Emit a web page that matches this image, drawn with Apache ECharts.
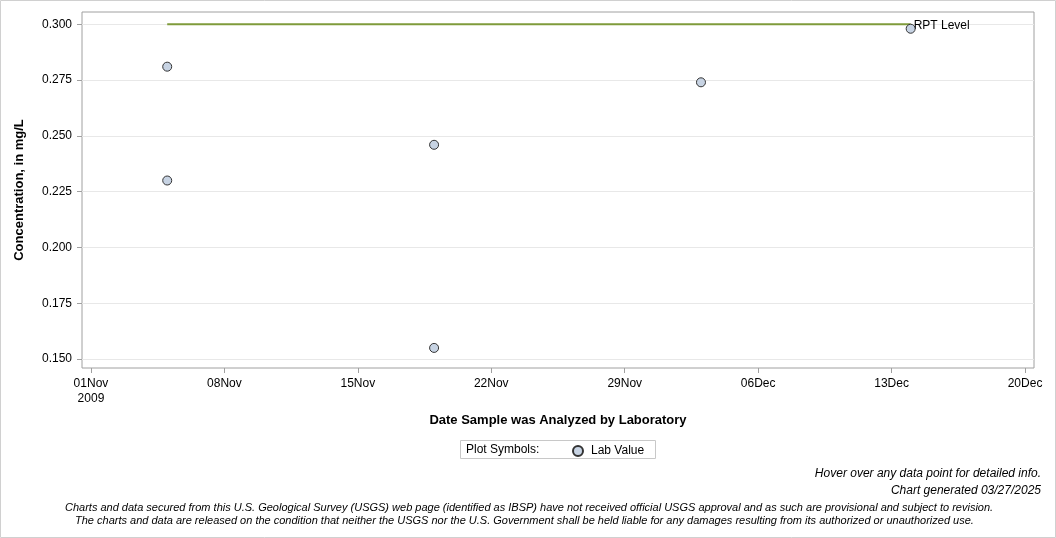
<!DOCTYPE html>
<html>
<head>
<meta charset="utf-8">
<script src="https://cdn.jsdelivr.net/npm/echarts@6/dist/echarts.min.js"></script>
<style>
	html, body { margin: 0; padding: 0; background: #fff; }
	#chart { width: 1056px; height: 538px; }
</style>
</head>
<body>
<div id="chart"></div>
<script>
	// sample dates and lab values
	var sampleDates = ['2009-11-05', '2009-11-05', '2009-11-19', '2009-11-19', '2009-12-03', '2009-12-14'];
	var labValues = [0.281, 0.230, 0.246, 0.155, 0.274, 0.298];
	// reporting level line
	var rptDates = ['2009-11-05', '2009-12-14'];
	var rptValue = 0.300;
	// axis ticks
	var xTickDates = ['2009-11-01', '2009-11-08', '2009-11-15', '2009-11-22', '2009-11-29', '2009-12-06', '2009-12-13', '2009-12-20'];
	var xTickLabels = ['01Nov\n2009', '08Nov', '15Nov', '22Nov', '29Nov', '06Dec', '13Dec', '20Dec'];
	var yTicks = [0.150, 0.175, 0.200, 0.225, 0.250, 0.275, 0.300];

	var FONT = 'Liberation Sans, Arial, sans-serif';
	var DAY = 86400000;
	var origin = Date.UTC(2009, 10, 1);
	// days since 01Nov2009
	function dayOf(s) {
		var p = s.split('-');
		return (Date.UTC(+p[0], +p[1] - 1, +p[2]) - origin) / DAY;
	}
	var xTicks = xTickDates.map(dayOf);
	var labelByDay = {};
	xTicks.forEach(function(d, i) { labelByDay[d] = xTickLabels[i]; });

	var scatterData = sampleDates.map(function(d, i) { return [dayOf(d), labValues[i]]; });
	var rptData = rptDates.map(function(d) { return [dayOf(d), rptValue]; });

	var chart = echarts.init(document.getElementById('chart'));
	chart.setOption({
		animation: false,
		textStyle: { fontFamily: FONT },
		grid: { left: 82, top: 12, right: 22, bottom: 170, show: true, borderColor: '#a0a0a0', borderWidth: 1 },
		xAxis: {
			type: 'value',
			min: -0.47,
			max: 49.47,
			name: 'Date Sample was Analyzed by Laboratory',
			nameLocation: 'middle',
			nameGap: 46,
			nameMoveOverlap: false,
			nameTextStyle: { fontWeight: 'bold', fontSize: 13, color: '#000', fontFamily: FONT },
			axisLine: { show: false, onZero: false },
			axisTick: { show: true, customValues: xTicks, length: 5, lineStyle: { color: '#a0a0a0' } },
			axisLabel: {
				customValues: xTicks,
				color: '#000', fontSize: 12, margin: 8, lineHeight: 15, fontFamily: FONT,
				formatter: function(v) { return labelByDay[v] || ''; }
			},
			splitLine: { show: false }
		},
		yAxis: {
			type: 'value',
			min: 0.146,
			max: 0.3055,
			name: 'Concentration, in mg/L',
			nameLocation: 'middle',
			nameGap: 56,
			nameMoveOverlap: false,
			nameTextStyle: { fontWeight: 'bold', fontSize: 13, color: '#000', fontFamily: FONT },
			axisLine: { show: false, onZero: false },
			axisTick: { show: true, customValues: yTicks, length: 5, lineStyle: { color: '#a0a0a0' } },
			axisLabel: {
				customValues: yTicks,
				color: '#000', fontSize: 12, margin: 10, fontFamily: FONT,
				formatter: function(v) { return v.toFixed(3); }
			},
			splitLine: { show: true, lineStyle: { color: '#e8e8e8', width: 1 } }
		},
		legend: {
			left: 572,
			top: 445,
			padding: 0,
			itemWidth: 10,
			itemHeight: 10,
			itemGap: 4,
			textStyle: { fontSize: 12, color: '#000', fontFamily: FONT, padding: [0, 0, 0, 3] },
			data: [{ name: 'Lab Value', icon: 'circle' }]
		},
		series: [{
			name: 'RPT Level',
			type: 'line',
			data: rptData,
			symbol: 'none',
			lineStyle: { color: '#7f9b3b', width: 2 },
			endLabel: {
				show: true,
				formatter: 'RPT Level',
				color: '#000',
				fontSize: 12,
				distance: 3,
				offset: [0, 1],
				fontFamily: FONT
			},
			z: 2
		}, {
			name: 'Lab Value',
			type: 'scatter',
			data: scatterData,
			symbol: 'circle',
			symbolSize: 9,
			itemStyle: { color: '#c7d3e3', borderColor: '#333', borderWidth: 1, opacity: 1 },
			z: 3
		}],
		graphic: [
			// outer frame
			{ type: 'rect', shape: { x: 0.5, y: 0.5, width: 1055, height: 537 }, style: { fill: 'none', stroke: '#d0d0d0', lineWidth: 1 }, silent: true },
			// legend box
			{ type: 'rect', shape: { x: 460.5, y: 440.5, width: 195, height: 18 }, style: { fill: 'none', stroke: '#c8c8c8', lineWidth: 1 }, silent: true },
			{ type: 'text', left: 466, top: 444, style: { text: 'Plot Symbols:', fontSize: 12, fill: '#000', fontFamily: FONT } },
			{ type: 'text', right: 15, top: 468, style: { text: 'Hover over any data point for detailed info.', fontSize: 12, fontStyle: 'italic', fill: '#000', fontFamily: FONT, align: 'right' } },
			{ type: 'text', right: 15, top: 485, style: { text: 'Chart generated 03/27/2025', fontSize: 12, fontStyle: 'italic', fill: '#000', fontFamily: FONT, align: 'right' } },
			{ type: 'text', left: 65, top: 502, style: { text: 'Charts and data secured from this U.S. Geological Survey (USGS) web page (identified as IBSP) have not received official USGS approval and as such are provisional and subject to revision.', fontSize: 11, fontStyle: 'italic', fill: '#000', fontFamily: FONT } },
			{ type: 'text', left: 75, top: 515, style: { text: 'The charts and data are released on the condition that neither the USGS nor the U.S. Government shall be held liable for any damages resulting from its authorized or unauthorized use.', fontSize: 11, fontStyle: 'italic', fill: '#000', fontFamily: FONT } }
		]
	});
</script>
</body>
</html>
